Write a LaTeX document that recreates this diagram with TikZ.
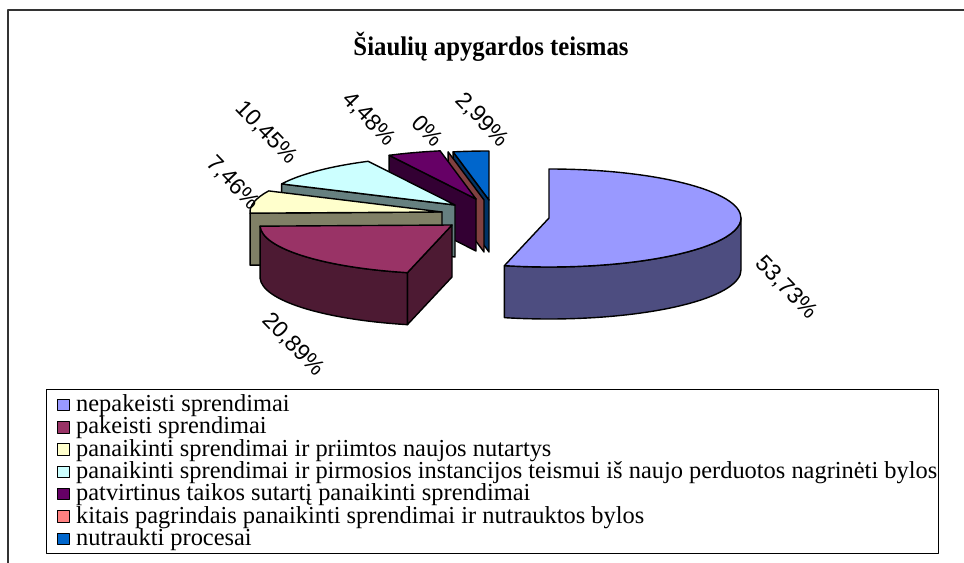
\documentclass[tikz,border=0pt]{standalone}
\usepackage{fontspec}
\setmainfont{Liberation Serif}
\newfontfamily\pctfont{Liberation Sans}
\usetikzlibrary{calc}

\def\pieRx{192}
\def\pieRy{49}
\def\pieDz{52}

\definecolor{framecol}{HTML}{333333}
\definecolor{topnep}{HTML}{9999FF}
\definecolor{toppak}{HTML}{993366}
\definecolor{toppri}{HTML}{FFFFCC}
\definecolor{toppir}{HTML}{CCFFFF}
\definecolor{toppat}{HTML}{660066}
\definecolor{topkit}{HTML}{FF8080}
\definecolor{topnut}{HTML}{0066CC}

\tikzset{
  face/.style={draw=black, line width=1.4bp, line join=round},
  pct/.style={font=\pctfont\fontsize{23}{23}\selectfont, rotate=-46, inner sep=0pt},
  keybox/.style={draw=black, line width=1bp, minimum size=11.5bp, inner sep=0pt},
  keytext/.style={anchor=base west, inner sep=0pt, font=\fontsize{24.5}{24.5}\selectfont},
}

\begin{document}
\begin{tikzpicture}[x=1bp,y=-1bp,line join=bevel]
\useasboundingbox (0,0) rectangle (964,563);

% Frame
\draw[line width=2bp, color=framecol] (8,563) -- (8,10) -- (964,10);

% Title
\node[font=\bfseries\fontsize{27}{27}\selectfont\addfontfeature{FakeStretch=0.92}] (title) at (491,47) {Šiaulių apygardos teismas};

% Slice: nutraukti procesai
\begin{scope}
  \definecolor{sidecol}{HTML}{003366}
  \coordinate (nutC) at (489,200);
  \filldraw[face, fill=sidecol] (nutC) -- ++(259.236:{\pieRx} and {\pieRy}) -- ++(0,\pieDz) -- ($(nutC)+(0,\pieDz)$) -- cycle;
  \filldraw[face, fill=topnut] (nutC) -- ++(259.236:{\pieRx} and {\pieRy}) arc[start angle=259.236, end angle=270, x radius=\pieRx, y radius=\pieRy] -- cycle;
\end{scope}

% Slice: kitais pagrindais (0%)
\begin{scope}
  \definecolor{sidecol}{HTML}{804040}
  \coordinate (kitC) at (484,200);
  \filldraw[face, fill=sidecol] (kitC) -- ++(259.236:{\pieRx} and {\pieRy}) -- ++(0,\pieDz) -- ($(kitC)+(0,\pieDz)$) -- cycle;
\end{scope}

% Slice: patvirtinus taikos sutarti
\begin{scope}
  \definecolor{sidecol}{HTML}{330033}
  \coordinate (patC) at (476,199);
  \filldraw[face, fill=sidecol] (patC) -- ++(243.108:{\pieRx} and {\pieRy}) -- ++(0,\pieDz) -- ($(patC)+(0,\pieDz)$) -- cycle;
  \filldraw[face, fill=toppat] (patC) -- ++(243.108:{\pieRx} and {\pieRy}) arc[start angle=243.108, end angle=259.236, x radius=\pieRx, y radius=\pieRy] -- cycle;
\end{scope}

% Slice: pirmosios instancijos teismui
\begin{scope}
  \definecolor{sidecol}{HTML}{668080}
  \coordinate (pirC) at (455,205);
  \filldraw[face, fill=sidecol] (pirC) -- ++(205.488:{\pieRx} and {\pieRy}) -- ++(0,\pieDz) -- ($(pirC)+(0,\pieDz)$) -- cycle;
  \filldraw[face, fill=toppir] (pirC) -- ++(205.488:{\pieRx} and {\pieRy}) arc[start angle=205.488, end angle=243.108, x radius=\pieRx, y radius=\pieRy] -- cycle;
\end{scope}

% Slice: priimtos naujos nutartys
\begin{scope}
  \definecolor{sidecol}{HTML}{808066}
  \coordinate (priC) at (442,212);
  \filldraw[face, fill=sidecol] (priC) -- ++(178.632:{\pieRx} and {\pieRy}) -- ++(0,\pieDz) -- ($(priC)+(0,\pieDz)$) -- cycle;
  \filldraw[face, fill=toppri] (priC) -- ++(178.632:{\pieRx} and {\pieRy}) arc[start angle=178.632, end angle=205.488, x radius=\pieRx, y radius=\pieRy] -- cycle;
\end{scope}

% Slice: pakeisti sprendimai
\begin{scope}
  \definecolor{sidecol}{HTML}{4D1A33}
  \coordinate (pakC) at (452,225);
  \filldraw[face, fill=sidecol] (pakC) -- ++(103.428:{\pieRx} and {\pieRy}) -- ++(0,\pieDz) -- ($(pakC)+(0,\pieDz)$) -- cycle;
  \filldraw[face, fill=sidecol] (pakC) ++(103.428:{\pieRx} and {\pieRy}) arc[start angle=103.428, end angle=178.632, x radius=\pieRx, y radius=\pieRy] -- ++(0,\pieDz) arc[start angle=178.632, end angle=103.428, x radius=\pieRx, y radius=\pieRy] -- cycle;
  \filldraw[face, fill=toppak] (pakC) -- ++(103.428:{\pieRx} and {\pieRy}) arc[start angle=103.428, end angle=178.632, x radius=\pieRx, y radius=\pieRy] -- cycle;
\end{scope}

% Slice: nepakeisti sprendimai
\begin{scope}
  \definecolor{sidecol}{HTML}{4D4D80}
  \coordinate (nepC) at (549,218);
  \filldraw[face, fill=sidecol] (nepC) ++(0:{\pieRx} and {\pieRy}) arc[start angle=0, end angle=103.428, x radius=\pieRx, y radius=\pieRy] -- ++(0,\pieDz) arc[start angle=103.428, end angle=0, x radius=\pieRx, y radius=\pieRy] -- cycle;
  \filldraw[face, fill=topnep] (nepC) -- ++(-90:{\pieRx} and {\pieRy}) arc[start angle=-90, end angle=103.428, x radius=\pieRx, y radius=\pieRy] -- cycle;
\end{scope}

% Labels
\node[pct] (pctnep) at (786,288) {53,73\%};
\node[pct] (pctpak) at (293,345) {20,89\%};
\node[pct] (pctpri) at (233,183) {7,46\%};
\node[pct] (pctpir) at (266,133) {10,45\%};
\node[pct] (pctpat) at (369,119) {4,48\%};
\node[pct] (pctkit) at (428,131) {0\%};
\node[pct] (pctnut) at (482,120) {2,99\%};

% Legend
\draw[line width=1bp] (46,389) rectangle (938,553);

\node[keybox, fill=topnep] (keynep) at (63.5,405) {};
\node[keytext] (txtnep) at (76,411.5) {nepakeisti sprendimai};
\node[keybox, fill=toppak] (keypak) at (63.5,427.3) {};
\node[keytext] (txtpak) at (76,433.8) {pakeisti sprendimai};
\node[keybox, fill=toppri] (keypri) at (63.5,449.6) {};
\node[keytext] (txtpri) at (76,456.1) {panaikinti sprendimai ir priimtos naujos nutartys};
\node[keybox, fill=toppir] (keypir) at (63.5,471.9) {};
\node[keytext] (txtpir) at (76,478.4) {panaikinti sprendimai ir pirmosios instancijos teismui iš naujo perduotos nagrinėti bylos};
\node[keybox, fill=toppat] (keypat) at (63.5,494.2) {};
\node[keytext] (txtpat) at (76,500.7) {patvirtinus taikos sutartį panaikinti sprendimai};
\node[keybox, fill=topkit] (keykit) at (63.5,516.5) {};
\node[keytext] (txtkit) at (76,523) {kitais pagrindais panaikinti sprendimai ir nutrauktos bylos};
\node[keybox, fill=topnut] (keynut) at (63.5,538.8) {};
\node[keytext] (txtnut) at (76,545.3) {nutraukti procesai};

\end{tikzpicture}
\end{document}
